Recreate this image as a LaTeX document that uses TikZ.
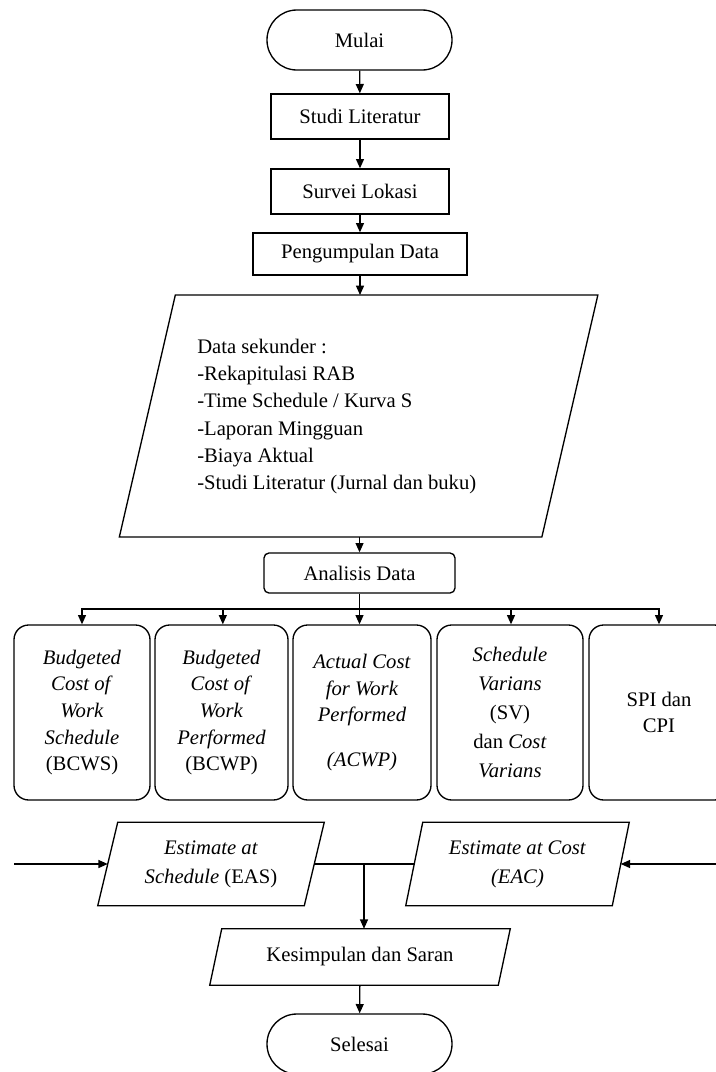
\documentclass[tikz,border=0pt]{standalone}
\usepackage{fontspec}
\setmainfont{Liberation Serif}
\usetikzlibrary{arrows.meta}
\begin{document}
\begin{tikzpicture}[x=0.75pt,y=-0.75pt,
  every node/.style={font=\fontsize{15.5}{20.5}\selectfont},
  ln/.style={line width=1pt},
  arr/.style={line width=1pt,-{Triangle[length=7pt,width=6pt]}},
  term/.style={draw,line width=1pt,rectangle,minimum width=138.75pt,minimum height=45pt,rounded corners=22.4pt,inner sep=0pt},
  procbox/.style={draw,line width=1pt,rectangle,minimum width=133.5pt,minimum height=33.75pt,inner sep=0pt},
  sidebox/.style={draw,line width=1pt,rectangle,rounded corners=11pt,minimum height=131.25pt,inner sep=0pt,align=center,
    font=\fontsize{15.5}{19.9}\selectfont},
  parabox/.style={rectangle,inner sep=0pt,align=center}
]
\useasboundingbox (0,0) rectangle (716,1072);
\clip (0,0) rectangle (716,1072);

\node[term] (mulai) at (359.5,40) {Mulai};
\node[procbox] (studi) at (360,116.5) {Studi Literatur};
\node[procbox] (survei) at (360,191.5) {Survei Lokasi};
\node[procbox,minimum width=160.5pt,minimum height=31.5pt] (kumpul) at (360,254) {Pengumpulan Data};

% data parallelogram (bounding box node + outline)
\node[parabox,minimum width=358.5pt,minimum height=181.1pt] (data) at (358.6,416) {};
\draw[ln] (data.south west) -- ([xshift=-42pt]data.south east) -- (data.north east) -- ([xshift=42pt]data.north west) -- cycle;
\node[anchor=west,align=left,inner sep=0pt] (datatext) at (197,416.5)
  {Data sekunder :\\-Rekapitulasi RAB\\-Time Schedule / Kurva S\\-Laporan Mingguan\\-Biaya Aktual\\-Studi Literatur (Jurnal dan buku)};

\node[draw,line width=1pt,rectangle,rounded corners=3.75pt,minimum width=143.25pt,minimum height=30pt,inner sep=0pt] (analisis) at (359.5,573) {Analisis Data};

\node[sidebox,minimum width=102pt] (b1) at (82,712.5)
  {\textit{Budgeted}\\\textit{Cost of}\\\textit{Work}\\\textit{Schedule}\\(BCWS)};
\node[sidebox,minimum width=99.75pt] (b2) at (221.5,712.5)
  {\textit{Budgeted}\\\textit{Cost of}\\\textit{Work}\\\textit{Performed}\\(BCWP)};
\node[sidebox,minimum width=103.5pt] (b3) at (362,712.5)
  {\textit{Actual Cost}\\\textit{for Work}\\\textit{Performed}\\[13.5pt]\textit{(ACWP)}};
\node[sidebox,minimum width=109.5pt,font=\fontsize{15.5}{21.75}\selectfont] (b4) at (510,712.5)
  {\textit{Schedule}\\\textit{Varians}\\(SV)\\dan \textit{Cost}\\\textit{Varians}};
\node[sidebox,minimum width=105pt] (b5) at (659,712.5) {SPI dan\\CPI};

% EAS
\node[parabox,minimum width=169.5pt,minimum height=62.25pt,font=\fontsize{15.5}{21.75}\selectfont] (eas) at (211,864)
  {\textit{Estimate at}\\\textit{Schedule} (EAS)};
\draw[ln] (eas.south west) -- ([xshift=-15pt]eas.south east) -- (eas.north east) -- ([xshift=15pt]eas.north west) -- cycle;
% EAC
\node[parabox,minimum width=167.25pt,minimum height=62.25pt,font=\fontsize{15.5}{21.75}\selectfont] (eac) at (517.5,864)
  {\textit{Estimate at Cost}\\\textit{(EAC)}};
\draw[ln] (eac.south west) -- ([xshift=-12.75pt]eac.south east) -- (eac.north east) -- ([xshift=12.75pt]eac.north west) -- cycle;
% Kesimpulan
\node[parabox,minimum width=225pt,minimum height=42pt] (kes) at (360,957) {Kesimpulan dan Saran};
\draw[ln] (kes.south west) -- ([xshift=-9pt]kes.south east) -- (kes.north east) -- ([xshift=9pt]kes.north west) -- cycle;

\node[term] (selesai) at (359.5,1044) {Selesai};

\draw[arr] (mulai) -- (studi);
\draw[arr] (studi) -- (survei);
\draw[arr] (survei) -- (kumpul);
\draw[arr] (kumpul.south) -- (kumpul.south |- data.north);
\draw[arr] (data.south -| analisis.north) -- (analisis.north);

\coordinate (split) at (359.5,609);
\draw[arr] (analisis.south) -- (analisis.south |- b3.north);
\draw[arr] (split) -| (b1.north);
\draw[arr] (split) -| ([xshift=1pt]b2.north);
\draw[arr] (split) -| ([xshift=0.75pt]b4.north);
\draw[arr] (split) -| (b5.north);

\coordinate (lin) at (14,864);
\coordinate (rin) at (716,864);
\draw[arr] (lin) -- ([xshift=7.5pt]eas.west);
\draw[arr] (rin) -- ([xshift=-6.4pt]eac.east);
\draw[ln] ([xshift=-7.5pt]eas.east) -- ([xshift=6.4pt]eac.west);
\coordinate (join) at (364,864);
\draw[arr] (join) -- (join |- kes.north);
\draw[arr] (kes) -- (selesai);
\end{tikzpicture}
\end{document}
